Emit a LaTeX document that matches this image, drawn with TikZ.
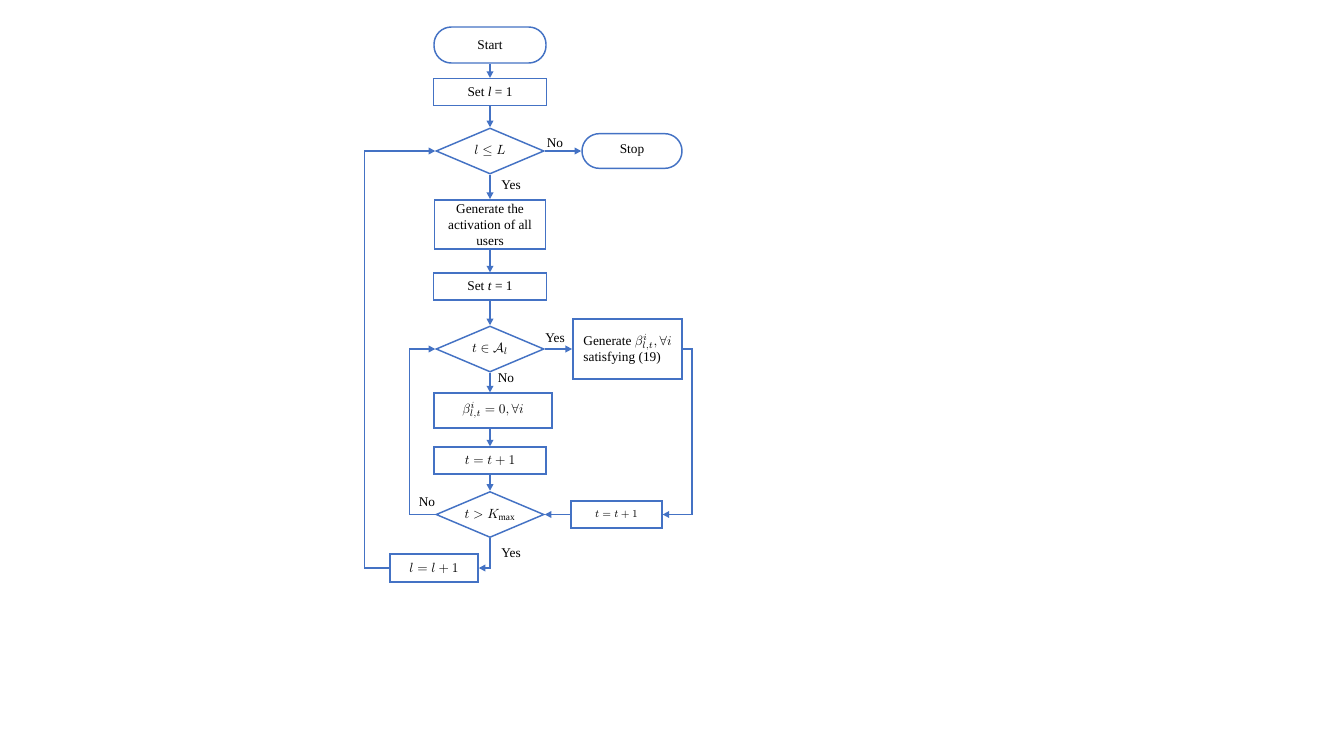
\documentclass[tikz,border=0pt]{standalone}
\usepackage{amsmath,amssymb}
\usepackage{fontspec}
\setmainfont{Liberation Serif}
\usetikzlibrary{shapes.geometric,arrows.meta}
\definecolor{flowblue}{RGB}{68,114,196}
\begin{document}
\begin{tikzpicture}[x=0.75pt,y=-0.75pt,
    line width=1.1pt,
    >={Triangle[length=5pt,width=5pt]},
    every node/.style={font=\fontsize{10}{12}\selectfont},
    terminal/.style={draw=flowblue, rounded corners=13pt, minimum width=84pt, minimum height=27pt, inner sep=0pt},
    stepbox/.style={draw=flowblue, minimum width=85pt, minimum height=20pt, inner sep=0pt},
    decision/.style={draw=flowblue, diamond, aspect=2.35, minimum width=81pt, minimum height=34.5pt, inner sep=0pt},
    flow/.style={->, draw=flowblue}]
    \useasboundingbox[fill=white] (0,0) rectangle (1323,743);

    % Outer loop over l
    \node[terminal] (start) at (490,45) {Start};
    \node[stepbox] (setl) at (490,92) {Set \textit{l} = 1};
    \node[decision] (dl) at (490,151) {$l \leq L$};
    \node[terminal, minimum width=75pt, minimum height=26pt] (stop) at (632,151) {Stop};
    \node[stepbox, minimum width=83pt, minimum height=37pt, align=center] (genact) at (490,224.5)
        {Generate the\\activation of all\\users};
    \node[stepbox] (sett) at (490,286.5) {Set \textit{t} = 1};

    % Inner loop over t
    \node[decision] (dA) at (490,349) {$t \in \mathcal{A}_l$};
    \node[stepbox, minimum width=82pt, minimum height=45pt, align=left] (genb) at (627.5,349)
        {Generate $\beta^{i}_{l,t}, \forall i$\\satisfying (19)};
    \node[stepbox, minimum width=88.5pt, minimum height=26pt] (beta0) at (493,410.5) {$\beta^{i}_{l,t} = 0, \forall i$};
    \node[stepbox, minimum width=84pt] (tinc) at (490,460.5) {$t = t + 1$};
    \node[decision] (dK) at (490,514.5) {$t > K_{\max}$};
    \node[stepbox, minimum width=68pt, font=\fontsize{8.5}{10}\selectfont] (tinc2) at (616.5,514.5) {$t = t + 1$};
    \node[stepbox, minimum width=66pt, minimum height=21pt] (linc) at (434,568) {$l = l + 1$};

    % Branch labels
    \node (noL) at (555,143) {No};
    \node (yesL) at (511,185) {Yes};
    \node (yesA) at (555,338) {Yes};
    \node (noA) at (506,378) {No};
    \node (noK) at (427,502) {No};
    \node (yesK) at (511,553) {Yes};

    % Connectors
    \draw[flow] (start) -- (setl);
    \draw[flow] (setl) -- (dl);
    \draw[flow] (dl.east) -- (stop.west);
    \draw[flow] (dl.south) -- (genact.north);
    \draw[flow] (genact) -- (sett);
    \draw[flow] (sett.south) -- (dA.north);
    \draw[flow] (dA.east) -- (genb.west);
    \draw[flow] (dA.south) -- (dA.south |- beta0.north);
    \draw[flow] (tinc.north |- beta0.south) -- (tinc.north);
    \draw[flow] (tinc) -- (dK);
    \draw[flow] (genb.east) -- ++(9,0) |- (tinc2.east);
    \draw[flow] (tinc2.west) -- (dK.east);
    \draw[flow] (dK.west) -- ++(-26,0) |- (dA.west);
    \draw[flow] (dK.south) |- (linc.east);
    \draw[flow] (linc.west) -- ++(-25,0) |- (dl.west);
\end{tikzpicture}
\end{document}
